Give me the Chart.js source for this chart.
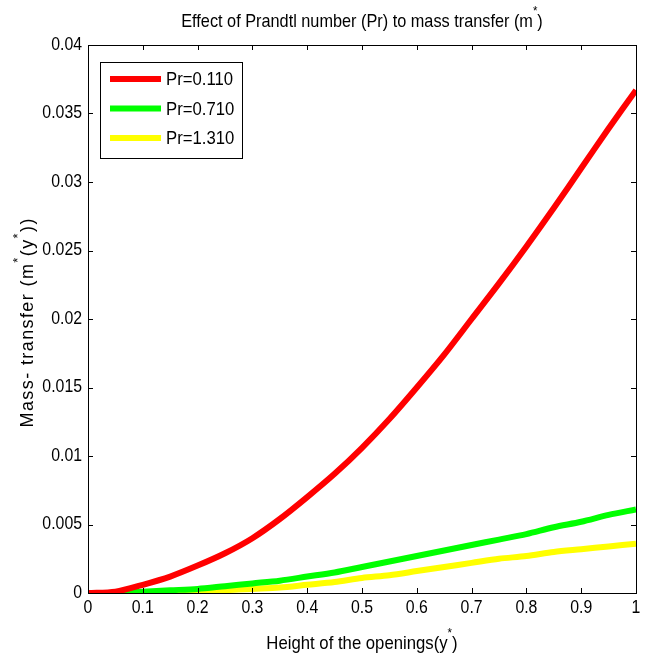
<!DOCTYPE html>
<html>
<head>
<meta charset="utf-8">
<script src="https://cdn.jsdelivr.net/npm/chart.js@4.4.0/dist/chart.umd.min.js"></script>
<style>
  html, body { margin: 0; padding: 0; background: #fff; }
  #wrap { position: relative; width: 651px; height: 659px; }
</style>
</head>
<body>
<div id="wrap"><canvas id="massChart" width="651" height="659"></canvas></div>
<script>
// Height of the openings (y*)
var heights = [0, 0.05, 0.1, 0.15, 0.2, 0.25, 0.3, 0.35, 0.4, 0.45, 0.5,
               0.55, 0.6, 0.65, 0.7, 0.75, 0.8, 0.85, 0.9, 0.95, 1];

// mass transfer m*(y*)
var massPr0110 = [0, 0.0001, 0.0006, 0.0012, 0.0020, 0.0029, 0.0040, 0.0054, 0.0070, 0.0087, 0.0106,
                  0.0127, 0.0150, 0.0174, 0.0200, 0.0226, 0.0253, 0.0281, 0.0310, 0.0339, 0.0367];
var massPr0710 = [0, 0, 0.0001, 0.0002, 0.0003, 0.0005, 0.0007, 0.0009, 0.0012, 0.0015, 0.0019,
                  0.0023, 0.0027, 0.0031, 0.0035, 0.0039, 0.0043, 0.0048, 0.0052, 0.0057, 0.0061];
var massPr1310 = [0, 0, 0, 0.0001, 0.0001, 0.0002, 0.0003, 0.0004, 0.0006, 0.0008, 0.0011,
                  0.0013, 0.0016, 0.0019, 0.0022, 0.0025, 0.0027, 0.0030, 0.0032, 0.0034, 0.0036];

var seriesLabels = ['Pr=0.110', 'Pr=0.710', 'Pr=1.310'];
var seriesColors = ['#ff0000', '#00ff00', '#ffff00'];

var xTicks = [0, 0.1, 0.2, 0.3, 0.4, 0.5, 0.6, 0.7, 0.8, 0.9, 1];
var yTicks = [0, 0.005, 0.01, 0.015, 0.02, 0.025, 0.03, 0.035, 0.04];

var FONT = "'Liberation Sans', Arial, sans-serif";
var SQUEEZE = 0.88;   // fake Arial Narrow look

function toPoints(ys) {
  return heights.map(function(h, i) { return { x: h, y: ys[i] }; });
}

function fmt(v) { return String(Number(v.toFixed(4))); }

// squeezed text, align = 'left' | 'center' | 'right'
function drawText(ctx, t, x, y, size, align, sq) {
  ctx.save();
  ctx.font = size + 'px ' + FONT;
  ctx.textBaseline = 'middle';
  ctx.textAlign = align;
  ctx.translate(x, y);
  ctx.scale(sq || SQUEEZE, 1);
  ctx.fillText(t, 0, 0);
  ctx.restore();
}

// normal + superscript pieces, centred on x; gap = extra spacing per char
function drawRich(ctx, parts, x, y, size, sq, gap) {
  sq = sq || SQUEEZE;
  gap = gap || 0;
  var pieces = [];
  parts.forEach(function(p) {
    var s = p.sup ? Math.round(size * 0.7) : size;
    ctx.font = s + 'px ' + FONT;
    var chars = gap ? p.t.split('') : [p.t];
    chars.forEach(function(c) {
      pieces.push({ t: c, sup: p.sup, size: s, w: ctx.measureText(c).width * sq + gap });
    });
  });
  var total = pieces.reduce(function(acc, p) { return acc + p.w; }, 0) - gap;
  var cx = x - total / 2;
  pieces.forEach(function(p) {
    drawText(ctx, p.t, cx, p.sup ? y - size * 0.55 : y, p.size, 'left', sq);
    cx += p.w;
  });
}

var matlabFrame = {
  id: 'matlabFrame',
  afterDraw: function(chart) {
    var ctx = chart.ctx;
    var a = chart.chartArea;
    var xs = chart.scales.x, ys = chart.scales.y;
    ctx.save();
    ctx.strokeStyle = '#000';
    ctx.fillStyle = '#000';
    ctx.lineWidth = 1;
    ctx.strokeRect(a.left + 0.5, a.top + 0.5, a.right - a.left, a.bottom - a.top);

    // inward ticks on all four sides, plus labels
    ctx.beginPath();
    xTicks.forEach(function(v) {
      var px = Math.round(xs.getPixelForValue(v)) + 0.5;
      ctx.moveTo(px, a.bottom); ctx.lineTo(px, a.bottom - 5);
      ctx.moveTo(px, a.top); ctx.lineTo(px, a.top + 5);
    });
    yTicks.forEach(function(v) {
      var py = Math.round(ys.getPixelForValue(v)) + 0.5;
      ctx.moveTo(a.left, py); ctx.lineTo(a.left + 5, py);
      ctx.moveTo(a.right, py); ctx.lineTo(a.right - 5, py);
    });
    ctx.stroke();
    xTicks.forEach(function(v) {
      drawText(ctx, fmt(v), xs.getPixelForValue(v), a.bottom + 15, 18, 'center');
    });
    yTicks.forEach(function(v) {
      drawText(ctx, fmt(v), a.left - 6, ys.getPixelForValue(v), 18, 'right');
    });

    // legend inside the plot, top-left
    var bx = a.left + 12, by = a.top + 17, bw = 142, bh = 96;
    ctx.fillStyle = '#fff';
    ctx.fillRect(bx, by, bw, bh);
    ctx.strokeRect(bx + 0.5, by + 0.5, bw, bh);
    var rows = [17, 46.5, 76];
    chart.data.datasets.forEach(function(ds, i) {
      var ry = by + rows[i];
      ctx.strokeStyle = ds.borderColor;
      ctx.lineWidth = 6;
      ctx.beginPath();
      ctx.moveTo(bx + 10, ry); ctx.lineTo(bx + 61, ry);
      ctx.stroke();
      ctx.fillStyle = '#000';
      drawText(ctx, ds.label, bx + 66, ry + 1, 19, 'left');
    });

    // titles
    ctx.fillStyle = '#000';
    var cx = (a.left + a.right) / 2;
    drawRich(ctx, [{ t: 'Effect of Prandtl number (Pr) to mass transfer (m' }, { t: '*', sup: true }, { t: ')' }], cx, 22, 18.5);
    drawRich(ctx, [{ t: 'Height of the openings(y' }, { t: '*', sup: true }, { t: ')' }], cx, 644, 19);
    ctx.translate(28, (a.top + a.bottom) / 2 + 4);
    ctx.rotate(-Math.PI / 2);
    drawRich(ctx, [{ t: 'Mass- transfer (m' }, { t: '*', sup: true }, { t: '(y' }, { t: '*', sup: true }, { t: '))' }], 0, 0, 18, 1, 1.4);
    ctx.restore();
  }
};

var datasets = [massPr0110, massPr0710, massPr1310].map(function(ys, i) {
  return {
    label: seriesLabels[i],
    data: toPoints(ys),
    borderColor: seriesColors[i],
    backgroundColor: seriesColors[i],
    borderWidth: 6,
    pointRadius: 0,
    fill: false,
    tension: 0.3
  };
});

new Chart(document.getElementById('massChart'), {
  type: 'line',
  data: { datasets: datasets },
  options: {
    responsive: false,
    animation: false,
    layout: { padding: { top: 45, right: 15, left: 0, bottom: 0 } },
    plugins: {
      legend: { display: false },
      title: { display: false },
      tooltip: { enabled: false }
    },
    scales: {
      x: {
        type: 'linear',
        min: 0,
        max: 1,
        afterFit: function(s) { s.height = 66; },
        grid: { display: false, drawTicks: false },
        border: { display: false },
        ticks: { display: false }
      },
      y: {
        type: 'linear',
        min: 0,
        max: 0.04,
        afterFit: function(s) { s.width = 88; },
        grid: { display: false, drawTicks: false },
        border: { display: false },
        ticks: { display: false }
      }
    }
  },
  plugins: [matlabFrame]
});
</script>
</body>
</html>
